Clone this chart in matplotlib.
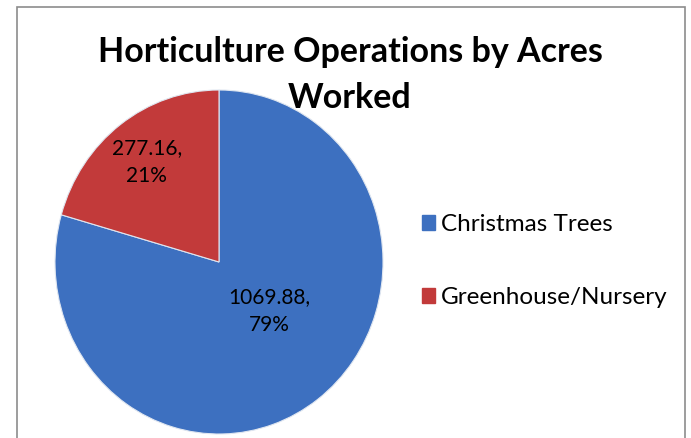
import matplotlib.pyplot as plt
import numpy as np

# data
categories = ["Christmas Trees", "Greenhouse/Nursery"]
acres = [1069.88, 277.16]
percents = [79, 21]
colors = ["#3D70C0", "#C23A3A"]

# label placement inside each slice (distance from centre, angle nudge in degrees)
label_dist = [0.42, 0.73]
label_nudge = [10, 0]

plt.rcParams['font.family'] = ['Lato', 'DejaVu Sans']

fig = plt.figure(figsize=(6.91, 4.38), dpi=100)

# outer chart border
border = plt.Rectangle((17 / 691, -0.1), (685 - 17) / 691, (438 - 7) / 438 + 0.1,
                       transform=fig.transFigure, fill=False, edgecolor="#8c8c8c", lw=1.2)
fig.patches.append(border)

ax = fig.add_axes([55 / 691, 4 / 438, 328 / 691, 344 / 438])
wedges, _ = ax.pie(acres, colors=colors, startangle=90, counterclock=False,
                   radius=1, wedgeprops=dict(edgecolor="#dfe6f0", linewidth=0.8))
ax.set_xlim(-1, 1)
ax.set_ylim(-1, 1)
ax.set_aspect("auto")
ax.axis("off")

# labels inside slices
for w, v, p, d, n in zip(wedges, acres, percents, label_dist, label_nudge):
    ang = np.deg2rad((w.theta1 + w.theta2) / 2 + n)
    ax.text(d * np.cos(ang), d * np.sin(ang), f"{v:.2f},\n{p}%", ha="center", va="center",
            fontsize=15, linespacing=1.5)

fig.text(350 / 691, 1 - 75 / 438, "Horticulture Operations by Acres\nWorked", ha="center",
         va="center", fontsize=24.5, fontweight="bold", linespacing=1.5)

# legend
handles = [plt.Rectangle((0, 0), 1, 1, color=c) for c in colors]
fig.legend(handles, categories, loc="center left", bbox_to_anchor=(400 / 691, 1 - 261 / 438),
           frameon=False, fontsize=17.5, handlelength=0.55, handleheight=0.55,
           handletextpad=0.25, labelspacing=2.15)

plt.savefig("out.png", dpi=100)
